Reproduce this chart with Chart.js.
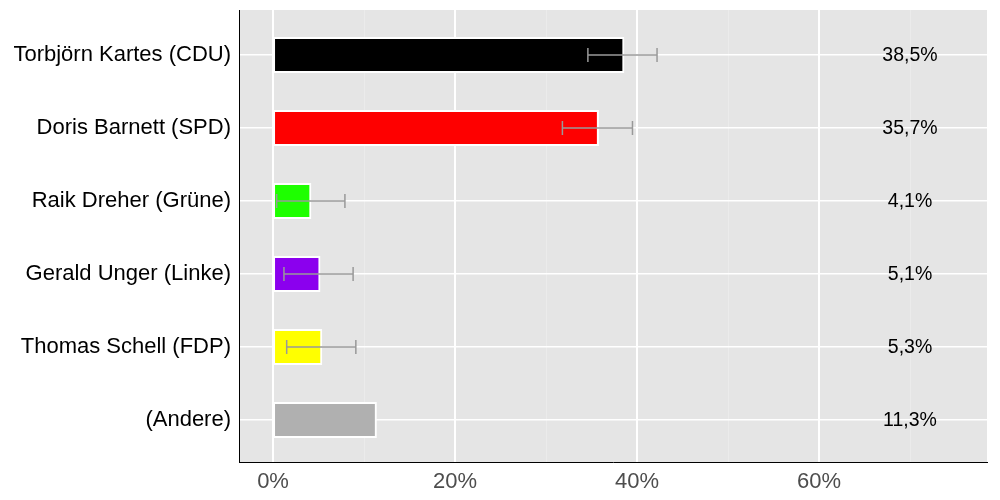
<!DOCTYPE html>
<html>
<head>
<meta charset="utf-8">
<script src="https://cdn.jsdelivr.net/npm/chart.js@4/dist/chart.umd.min.js"></script>
<style>
  html, body { margin: 0; padding: 0; background: #fff; }
  #wrap { width: 1000px; height: 500px; }
</style>
</head>
<body>
<div id="wrap"><canvas id="chart" width="1000" height="500"></canvas></div>
<script>
// Kandidaten und Werte
const candidates = ['Torbjörn Kartes (CDU)', 'Doris Barnett (SPD)', 'Raik Dreher (Grüne)', 'Gerald Unger (Linke)', 'Thomas Schell (FDP)', '(Andere)'];
const shares = [38.5, 35.7, 4.1, 5.1, 5.3, 11.3];
const errLow = [34.6, 31.8, 0.4, 1.2, 1.5, null];
const errHigh = [42.2, 39.5, 7.9, 8.8, 9.1, null];
const partyColors = ['#000000', '#fe0000', '#1eff00', '#8b00ee', '#ffff00', '#b0b0b0'];
const xTicks = [0, 10, 20, 30, 40, 50, 60, 70];
const xTickLabels = ['0%', '', '20%', '', '40%', '', '60%', ''];

const fmt = v => v.toFixed(1).replace('.', ',') + '%';
const FONT = '"Liberation Sans", Arial, sans-serif';

const bgPlugin = {
  id: 'bg',
  beforeDraw(chart) {
    const a = chart.chartArea, ctx = chart.ctx;
    ctx.save();
    ctx.fillStyle = '#e5e5e5';
    ctx.fillRect(a.left, a.top, a.right - a.left, a.bottom - a.top);
    ctx.restore();
  }
};

const extrasPlugin = {
  id: 'extras',
  afterDatasetsDraw(chart) {
    const ctx = chart.ctx, xs = chart.scales.x, ys = chart.scales.y;
    ctx.save();
    // Fehlerbalken
    ctx.strokeStyle = '#999999';
    ctx.lineWidth = 1.5;
    errLow.forEach((lo, i) => {
      if (lo == null) return;
      const y = ys.getPixelForValue(i);
      const x1 = xs.getPixelForValue(lo), x2 = xs.getPixelForValue(errHigh[i]);
      ctx.beginPath();
      ctx.moveTo(x1, y); ctx.lineTo(x2, y);
      ctx.moveTo(x1, y - 7); ctx.lineTo(x1, y + 7);
      ctx.moveTo(x2, y - 7); ctx.lineTo(x2, y + 7);
      ctx.stroke();
    });
    // Werte rechts
    ctx.fillStyle = '#000';
    ctx.font = '19.5px ' + FONT;
    ctx.textAlign = 'center';
    ctx.textBaseline = 'middle';
    shares.forEach((v, i) => {
      ctx.fillText(fmt(v), xs.getPixelForValue(70), ys.getPixelForValue(i) + 1);
    });
    ctx.restore();
  }
};

new Chart(document.getElementById('chart'), {
  type: 'bar',
  data: {
    datasets: [{
      data: shares.map((v, i) => ({ x: v, y: i })),
      backgroundColor: partyColors,
      borderColor: '#ffffff',
      borderWidth: 2,
      borderSkipped: false,
      inflateAmount: 1,
      barThickness: 34
    }]
  },
  options: {
    indexAxis: 'y',
    responsive: false,
    animation: false,
    layout: { padding: { top: 10, right: 13, left: 0, bottom: 0 } },
    plugins: { legend: { display: false }, tooltip: { enabled: false } },
    scales: {
      x: {
        type: 'linear',
        min: -3.74,
        max: 78.46,
        afterBuildTicks: s => { s.ticks = xTicks.map(v => ({ value: v })); },
        afterFit: s => { s.height = 38; s.paddingLeft = 0; s.paddingRight = 0; },
        ticks: {
          autoSkip: false,
          maxRotation: 0,
          padding: 7,
          color: '#4d4d4d',
          font: { size: 22, family: FONT },
          callback: (v) => xTickLabels[xTicks.indexOf(v)]
        },
        grid: {
          drawTicks: false,
          color: c => (c.tick && c.tick.value % 20 === 0) ? '#ffffff' : '#ebebeb',
          lineWidth: c => (c.tick && c.tick.value % 20 === 0) ? 2 : 1
        },
        border: { display: true, color: '#000000', width: 1 }
      },
      y: {
        type: 'linear',
        reverse: true,
        offset: false,
        min: -0.616,
        max: 5.575,
        afterBuildTicks: s => { s.ticks = candidates.map((c, i) => ({ value: i })); },
        afterFit: s => { s.width = 239; s.paddingTop = 0; s.paddingBottom = 0; },
        ticks: {
          autoSkip: false,
          padding: 8,
          color: '#000000',
          font: { size: 22, family: FONT },
          callback: v => candidates[v]
        },
        grid: { drawTicks: false, offset: false, color: '#ffffff', lineWidth: 1.5 },
        border: { display: true, color: '#000000', width: 1 }
      }
    }
  },
  plugins: [bgPlugin, extrasPlugin]
});
</script>
</body>
</html>
